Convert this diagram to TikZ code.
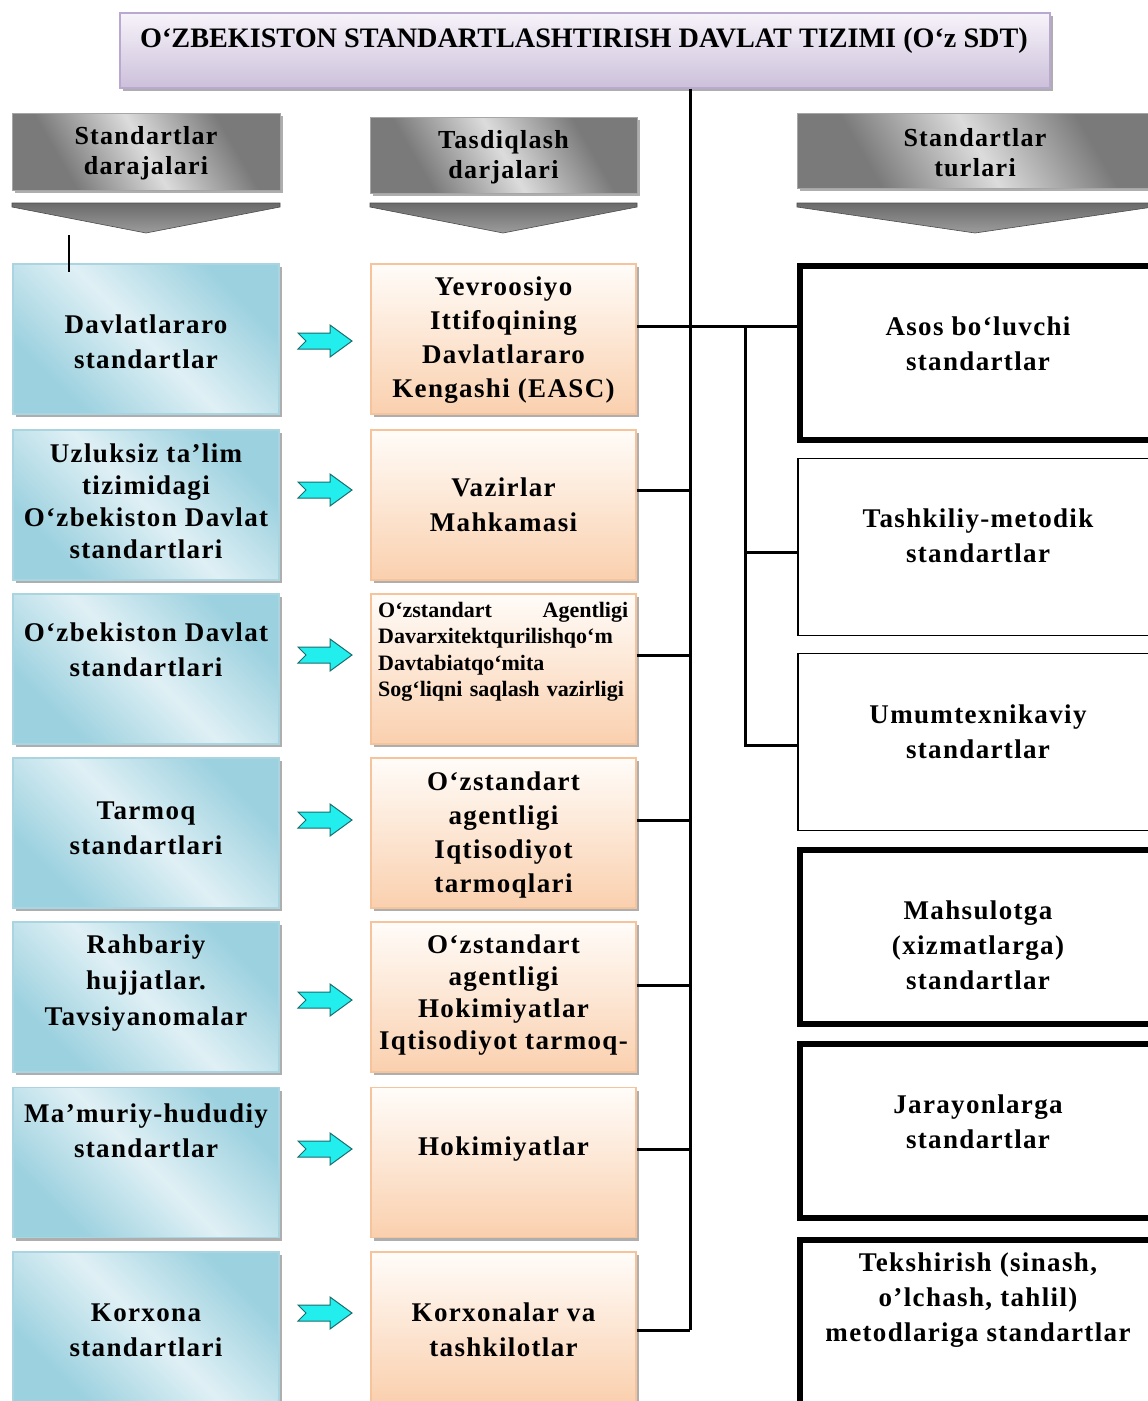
\documentclass[tikz,border=0pt]{standalone}
\usepackage{fontspec}
\setmainfont{Liberation Serif}
\newfontfamily\bx[LetterSpace=5]{Liberation Serif}
\usetikzlibrary{shadows,calc}
\definecolor{bluedk}{HTML}{9CD1DF}
\definecolor{bluelt}{HTML}{E0F0F5}
\definecolor{blueln}{HTML}{A9D4E0}
\definecolor{orgtop}{HTML}{FFFCF9}
\definecolor{orgbot}{HTML}{FAD0AE}
\definecolor{orgln}{HTML}{F5C49C}
\definecolor{purtop}{HTML}{F7F3FA}
\definecolor{purbot}{HTML}{CCC0DA}
\definecolor{purln}{HTML}{B9A8D0}
\definecolor{graydk}{HTML}{7A7A7A}
\definecolor{graylt}{HTML}{DCDCDC}
\definecolor{chevtop}{HTML}{6A6A6A}
\definecolor{chevbot}{HTML}{9C9C9C}
\definecolor{cyanf}{HTML}{22EEEE}
\definecolor{cyanl}{HTML}{1A6E6E}
\pgfdeclarehorizontalshading{bluesh}{100bp}{color(0bp)=(bluedk); color(27bp)=(bluedk); color(50bp)=(bluelt); color(73bp)=(bluedk); color(100bp)=(bluedk)}
\pgfdeclarehorizontalshading{graysh}{100bp}{color(0bp)=(graydk); color(30bp)=(graydk); color(50bp)=(graylt); color(70bp)=(graydk); color(100bp)=(graydk)}
\begin{document}
\begin{tikzpicture}[x=1pt,y=-1pt,
  shad/.style={drop shadow={shadow xshift=3pt,shadow yshift=-3pt,fill=black!45,opacity=0.7}},
  lbox/.style={draw=blueln,line width=1.2pt,shade,shading=bluesh,shading angle=45,minimum width=266pt,minimum height=150pt,inner sep=0pt,shad},
  mbox/.style={draw=orgln,line width=1.2pt,top color=orgtop,bottom color=orgbot,minimum width=265pt,minimum height=150pt,inner sep=0pt,shad},
  hbox/.style={draw=gray!70,line width=0.8pt,shade,shading=graysh,shading angle=30,inner sep=0pt,shad},
  thickbox/.style={draw=black,fill=white,line width=6pt,minimum width=357pt,minimum height=174pt,inner sep=0pt},
  thinbox/.style={draw=black,fill=white,line width=1.5pt,minimum width=361.5pt,minimum height=177pt,inner sep=0pt},
  chev/.style={draw=gray!60!black,line width=0.6pt,top color=chevtop,bottom color=chevbot},
  txt/.style={font=\bx\bfseries\fontsize{27}{35}\selectfont,align=center,inner sep=0pt},
  htxt/.style={font=\bx\bfseries\fontsize{26}{30}\selectfont,align=center,inner sep=0pt},
  conn/.style={line width=3pt,black},
  cyarr/.style={fill=cyanf,draw=cyanl,line width=1pt,line join=miter}]
\path[use as bounding box,clip] (0,0) rectangle (1148,1401);
\fill[white] (0,0) rectangle (1148,1401);

% title
\node[draw=purln,line width=1.2pt,top color=purtop,bottom color=purbot,minimum width=930pt,minimum height=75pt,inner sep=0pt,shad] (T) at (585,50.5) {};
\node[font=\bfseries\fontsize{28.2}{30}\selectfont,inner sep=0pt] (Tt) at (584,41) {O‘ZBEKISTON STANDARTLASHTIRISH DAVLAT TIZIMI (O‘z SDT)};

% headers
\node[hbox,minimum width=268pt,minimum height=77pt] (HL) at (146,151.5) {};
\node[hbox,minimum width=267pt,minimum height=76pt] (HM) at (503.5,155) {};
\node[hbox,minimum width=363pt,minimum height=75pt] (HR) at (978.5,150.5) {};
\node[htxt] (HLt) at (146,153) {Standartlar\\darajalari};
\node[htxt] (HMt) at (503.5,157) {Tasdiqlash\\darjalari};
\node[htxt] (HRt) at (975,153) {Standartlar\\turlari};

% chevrons
\path[chev] (12,203) -- (280,203) -- (280,207) -- (146,233) -- (12,207) -- cycle;
\path[chev] (370,203) -- (637,203) -- (637,207) -- (503,233) -- (370,207) -- cycle;
\path[chev] (797,203) -- (1153,203) -- (1153,207) -- (975,233) -- (797,207) -- cycle;

% left boxes
\node[lbox] (L1) at (146,339) {};
\node[lbox] (L2) at (146,505) {};
\node[lbox] (L3) at (146,669) {};
\node[lbox] (L4) at (146,833) {};
\node[lbox] (L5) at (146,997) {};
\node[lbox] (L6) at (146,1162.5) {};
\node[lbox] (L7) at (146,1327) {};
\draw[line width=2.4pt] (69,235) -- (69,272);

% middle boxes
\node[mbox] (M1) at (503.5,339) {};
\node[mbox] (M2) at (503.5,505) {};
\node[mbox] (M3) at (503.5,669) {};
\node[mbox] (M4) at (503.5,833) {};
\node[mbox] (M5) at (503.5,997) {};
\node[mbox] (M6) at (503.5,1162.5) {};
\node[mbox] (M7) at (503.5,1327) {};

% right boxes
\node[thickbox] (R1) at (978.5,353) {};
\node[thinbox] (R2) at (978.5,547) {};
\node[thinbox] (R3) at (978.5,742) {};
\node[thickbox] (R4) at (978.5,937) {};
\node[thickbox] (R5) at (978.5,1131) {};
\node[thickbox] (R6) at (978.5,1327) {};

% left texts
\node[txt] (L1t) at (146,342) {Davlatlararo\\standartlar};
\node[txt,font=\bx\bfseries\fontsize{27}{32}\selectfont] (L2t) at (146,501) {Uzluksiz ta’lim\\tizimidagi\\O‘zbekiston Davlat\\standartlari};
\node[txt] (L3t) at (146,650) {O‘zbekiston Davlat\\standartlari};
\node[txt] (L4t) at (146,828) {Tarmoq\\standartlari};
\node[txt,font=\bx\bfseries\fontsize{27}{36}\selectfont] (L5t) at (146,983) {Rahbariy\\hujjatlar.\\Tavsiyanomalar};
\node[txt] (L6t) at (146,1131) {Ma’muriy-hududiy\\standartlar};
\node[txt] (L7t) at (146,1330) {Korxona\\standartlari};

% middle texts
\node[txt,font=\bx\bfseries\fontsize{27}{34}\selectfont] (M1t) at (503.5,340) {Yevroosiyo\\Ittifoqining\\Davlatlararo\\Kengashi (EASC)};
\node[txt] (M2t) at (503.5,505) {Vazirlar\\Mahkamasi};
\node[font=\bfseries\fontsize{22}{26.5}\selectfont,align=left,text width=250pt,inner sep=0pt,anchor=west] (M3t) at (378,652) {\makebox[250pt][s]{O‘zstandart\hfill Agentligi}\\Davarxitektqurilishqo‘m\\Davtabiatqo‘mita\\Sog‘liqni saqlash vazirligi};
\node[txt,font=\bx\bfseries\fontsize{27}{34}\selectfont] (M4t) at (503.5,835) {O‘zstandart\\agentligi\\Iqtisodiyot\\tarmoqlari};
\node[txt,font=\bx\bfseries\fontsize{27}{32}\selectfont] (M5t) at (503.5,995) {O‘zstandart\\agentligi\\Hokimiyatlar\\Iqtisodiyot tarmoq-};
\node[txt] (M6t) at (503.5,1149) {Hokimiyatlar};
\node[txt] (M7t) at (503.5,1330) {Korxonalar va\\tashkilotlar};

% right texts
\node[txt] (R1t) at (978,344) {Asos bo‘luvchi\\standartlar};
\node[txt] (R2t) at (978,536) {Tashkiliy-metodik\\standartlar};
\node[txt] (R3t) at (978,732) {Umumtexnikaviy\\standartlar};
\node[txt] (R4t) at (978,945) {Mahsulotga\\(xizmatlarga)\\standartlar};
\node[txt] (R5t) at (978,1122) {Jarayonlarga\\standartlar};
\node[txt] (R6t) at (978,1300) {Tekshirish (sinash,\\o’lchash, tahlil)\\metodlariga standartlar};

% cyan arrows between left and middle boxes
\foreach \ay in {341,490,655,820,1000,1149,1313}{
  \draw[cyarr,shift={(325,\ay)}] (-27,-8) -- (5,-8) -- (5,-16) -- (27,0) -- (5,16) -- (5,8) -- (-27,8) -- (-19,0) -- cycle;
}

% connectors
\coordinate (sp) at (690,0);
\coordinate (c1) at ([yshift=13pt]M1.east);
\coordinate (c2) at ([yshift=15pt]M2.east);
\coordinate (c3) at ([yshift=14pt]M3.east);
\coordinate (c4) at ([yshift=13pt]M4.east);
\coordinate (c5) at ([yshift=12pt]M5.east);
\coordinate (c6) at ([yshift=13.5pt]M6.east);
\coordinate (c7) at ([yshift=-3pt]M7.east);
\draw[conn] (T.south -| sp) -- (c7 -| sp);
\foreach \i in {2,3,4,5,6,7}{
  \draw[conn] (c\i) -- (c\i -| sp);
}
\draw[conn] (c1) -- (c1 -| R1.west);
\coordinate (sb) at (c1 -| 745,0);
\draw[conn] (sb) |- ([yshift=-5pt]R2.west);
\draw[conn] (sb) |- ([yshift=-3pt]R3.west);
\end{tikzpicture}
\end{document}
